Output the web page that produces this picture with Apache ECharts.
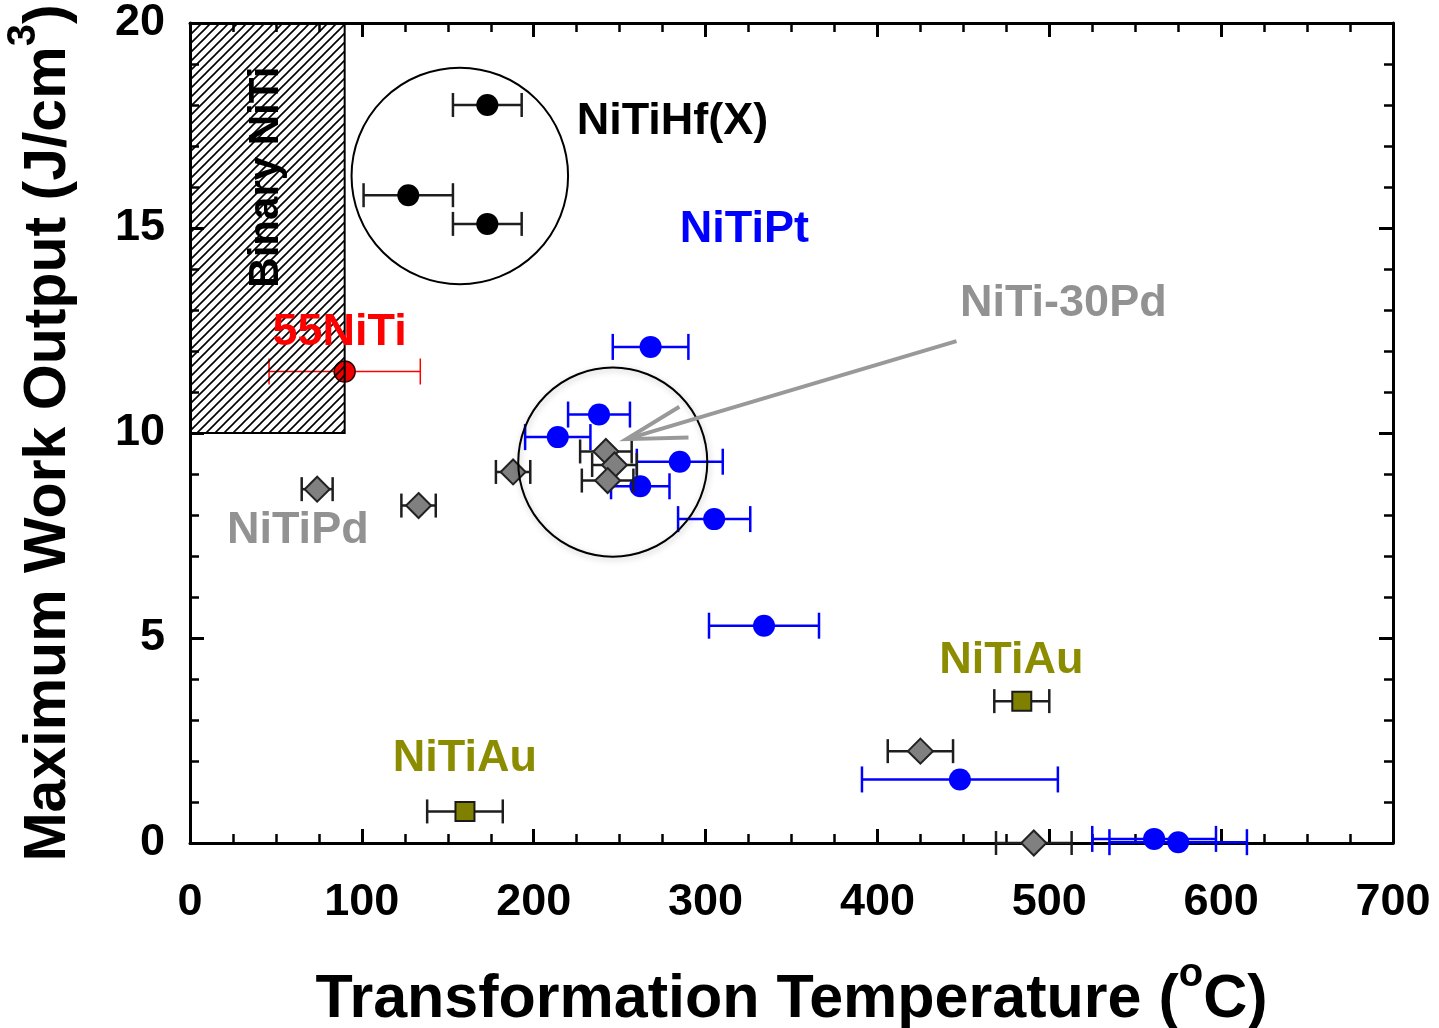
<!DOCTYPE html>
<html>
<head>
<meta charset="utf-8">
<script src="https://cdn.jsdelivr.net/npm/echarts@6/dist/echarts.min.js"></script>
<style>
  html, body { margin: 0; padding: 0; background: #fff; }
  #chart { width: 1439px; height: 1028px; }
</style>
</head>
<body>
<div id="chart"></div>
<script>
// Transformation temperature (°C), maximum work output (J/cm³) and temperature spread per alloy family
const hfTemp = [173, 127, 173];
const hfWork = [18.0, 15.8, 15.1];
const hfErr  = [20, 26, 20];

const ptTemp = [268, 238, 214, 285, 262, 305, 334, 448, 561, 575];
const ptWork = [12.1, 10.45, 9.9, 9.3, 8.7, 7.9, 5.3, 1.55, 0.1, 0.02];
const ptErr  = [22, 18, 19, 25, 17, 21, 32, 57, 36, 40];

const pdTemp = [74, 133, 188, 242, 247, 243, 425, 491];
const pdWork = [8.63, 8.23, 9.05, 9.55, 9.22, 8.84, 2.24, 0.0];
const pdErr  = [9, 10, 10, 15, 13, 15, 19, 22];

const auTemp = [484, 160];
const auWork = [3.46, 0.77];
const auErr  = [16, 22];

const niti55Temp = [90];
const niti55Work = [11.5];
const niti55Err  = [44];

// Binary NiTi region: [temp from, temp to, work from, work to]
const binaryRegion = [0, 90, 10, 20];

// Group outlines: [centre temp, centre work, radius in °C]
const groupCircles = [[157, 16.27, 63], [246, 9.29, 55]];
// Pointer from the NiTi-30Pd label to its cluster: [from, to]
const pointer = [[446, 12.24], [254, 9.85]];

// Axis ticks
const xTicks = [0, 100, 200, 300, 400, 500, 600, 700];
const yTicks = [0, 5, 10, 15, 20];

// Text annotations and where they sit (temp, work)
const labelNames   = ['NiTiHf(X)', 'NiTiPt', 'NiTi-30Pd', '55NiTi', 'NiTiPd', 'NiTiAu', 'NiTiAu', 'Binary NiTi'];
const labelAnchors = [[225, 17.6], [285, 14.95], [448, 13.15], [48, 12.46], [21.5, 7.61], [436, 4.46], [118, 2.05], [44.2, 16.24]];

const FONT = '"Liberation Sans", Arial, Helvetica, sans-serif';
const labelStyles = [
  { fill: '#000000' },
  { fill: '#0000ff' },
  { fill: '#929292' },
  { fill: '#ff0000' },
  { fill: '#929292' },
  { fill: '#8c8c00' },
  { fill: '#8c8c00' },
  { fill: '#000000', size: 42, rotate: true }
];

const zip3 = (a, b, c) => a.map((v, i) => [v, b[i], c[i]]);
const zip2 = (a, b) => a.map((v, i) => [v, b[i]]);

// Diagonal hatch tile for the binary NiTi region
const hatch = document.createElement('canvas');
hatch.width = 9; hatch.height = 9;
(function () {
  const g = hatch.getContext('2d');
  g.strokeStyle = '#000';
  g.lineWidth = 1.6;
  g.beginPath();
  g.moveTo(-2, 11); g.lineTo(11, -2);
  g.moveTo(-2, 2); g.lineTo(2, -2);
  g.moveTo(7, 11); g.lineTo(11, 7);
  g.stroke();
})();

function errorBars(name, data, color, width, cap, z) {
  return {
    name, type: 'custom', z, silent: true, clip: false,
    data,
    renderItem(params, api) {
      const x = api.value(0), y = api.value(1), e = api.value(2);
      const a = api.coord([x - e, y]);
      const b = api.coord([x + e, y]);
      const st = { stroke: color, lineWidth: width, fill: null };
      return {
        type: 'group',
        children: [
          { type: 'line', shape: { x1: a[0], y1: a[1], x2: b[0], y2: b[1] }, style: st },
          { type: 'line', shape: { x1: a[0], y1: a[1] - cap, x2: a[0], y2: a[1] + cap }, style: st },
          { type: 'line', shape: { x1: b[0], y1: b[1] - cap, x2: b[0], y2: b[1] + cap }, style: st }
        ]
      };
    }
  };
}

function markers(name, data, symbol, size, itemStyle, z) {
  return {
    name, type: 'scatter', z, silent: true, clip: false,
    symbol, symbolSize: size, data,
    itemStyle: Object.assign({ opacity: 1 }, itemStyle),
    emphasis: { disabled: true }
  };
}

const axisLine = { show: true, onZero: false, lineStyle: { color: '#000', width: 3 } };
const axisTick = { show: true, inside: true, length: 14, lineStyle: { color: '#000', width: 3 } };
const tickLabel = { color: '#000', fontSize: 45, fontWeight: 'bold', fontFamily: FONT };

const xBase = {
  type: 'value', min: xTicks[0], max: xTicks[xTicks.length - 1], interval: xTicks[1] - xTicks[0],
  axisLine, axisTick,
  minorTick: { show: true, splitNumber: 4, length: 9, lineStyle: { color: '#000', width: 2.5 } },
  splitLine: { show: false }, minorSplitLine: { show: false }
};
const yBase = {
  type: 'value', min: yTicks[0], max: yTicks[yTicks.length - 1], interval: yTicks[1] - yTicks[0],
  axisLine, axisTick,
  minorTick: { show: true, splitNumber: 5, length: 9, lineStyle: { color: '#000', width: 2.5 } },
  splitLine: { show: false }, minorSplitLine: { show: false }
};

function titleRich(size) {
  return {
    t: { fontSize: size, fontWeight: 'bold', fontFamily: FONT, color: '#000', lineHeight: 90 },
    s: { fontSize: 40, fontWeight: 'bold', fontFamily: FONT, color: '#000', lineHeight: 36, verticalAlign: 'top' }
  };
}

const option = {
  animation: false,
  backgroundColor: '#fff',
  grid: { left: 190, right: 46, top: 23, bottom: 185, containLabel: false, outerBoundsMode: 'none' },
  xAxis: [
    Object.assign({}, xBase, {
      position: 'bottom',
      axisLabel: Object.assign({ margin: 37 }, tickLabel),
      name: '{t|Transformation Temperature (}{s|o}{t|C)}',
      nameLocation: 'middle', nameGap: 112,
      nameTextStyle: { rich: titleRich(61) }
    }),
    Object.assign({}, xBase, { position: 'top', axisLabel: { show: false } })
  ],
  yAxis: [
    Object.assign({}, yBase, {
      position: 'left',
      axisLabel: Object.assign({ margin: 25 }, tickLabel),
      name: '{t|Maximum Work Output (J/cm}{s|3}{t|)}',
      nameLocation: 'middle', nameGap: 96, nameRotate: 90,
      nameTextStyle: { rich: titleRich(59) }
    }),
    Object.assign({}, yBase, { position: 'right', axisLabel: { show: false } })
  ],
  series: [
    errorBars('NiTiPt spread', zip3(ptTemp, ptWork, ptErr), '#0000ff', 2.5, 13, 2),
    markers('NiTiPt', zip2(ptTemp, ptWork), 'circle', 22, { color: '#0000ff' }, 3),
    errorBars('NiTiPd spread', zip3(pdTemp, pdWork, pdErr), '#1e1e1e', 2.5, 12, 4),
    markers('NiTiPd', zip2(pdTemp, pdWork), 'diamond', [25, 25], { color: '#808080', borderColor: '#222', borderWidth: 2 }, 5),
    errorBars('NiTiHf spread', zip3(hfTemp, hfWork, hfErr), '#1e1e1e', 2.5, 12, 4),
    markers('NiTiHf(X)', zip2(hfTemp, hfWork), 'circle', 22, { color: '#000' }, 5),
    errorBars('NiTiAu spread', zip3(auTemp, auWork, auErr), '#1e1e1e', 2.5, 12, 4),
    markers('NiTiAu', zip2(auTemp, auWork), 'rect', 19, { color: '#808000', borderColor: '#1a1a1a', borderWidth: 2 }, 5),
    errorBars('55NiTi spread', zip3(niti55Temp, niti55Work, niti55Err), '#ff0000', 1.5, 13, 4),
    markers('55NiTi', zip2(niti55Temp, niti55Work), 'circle', 21, { color: '#ee0000', borderColor: '#330000', borderWidth: 1.5 }, 5),
    {
      name: 'Binary NiTi', type: 'custom', z: 6, silent: true, clip: false,
      data: [binaryRegion],
      renderItem(params, api) {
        const tl = api.coord([api.value(0), api.value(3)]);
        const br = api.coord([api.value(1), api.value(2)]);
        return {
          type: 'rect',
          shape: { x: tl[0], y: tl[1], width: br[0] - tl[0], height: br[1] - tl[1] },
          style: { fill: { image: hatch, repeat: 'repeat' }, stroke: '#000', lineWidth: 2 }
        };
      }
    },
    {
      name: 'groups', type: 'custom', z: 7, silent: true, clip: false,
      data: groupCircles,
      renderItem(params, api) {
        const c = api.coord([api.value(0), api.value(1)]);
        const r = api.size([api.value(2), 0])[0];
        const shadow = params.dataIndex === 1;
        return {
          type: 'circle',
          shape: { cx: c[0], cy: c[1], r },
          style: {
            fill: null, stroke: '#000', lineWidth: 2,
            shadowBlur: shadow ? 6 : 0, shadowColor: 'rgba(0,0,0,0.25)', shadowOffsetX: shadow ? 1 : 0, shadowOffsetY: shadow ? 2 : 0
          }
        };
      }
    },
    {
      name: 'pointer', type: 'custom', z: 7, silent: true, clip: false,
      data: [[pointer[0][0], pointer[0][1], pointer[1][0], pointer[1][1]]],
      renderItem(params, api) {
        const s = api.coord([api.value(0), api.value(1)]);
        const t = api.coord([api.value(2), api.value(3)]);
        const ang = Math.atan2(s[1] - t[1], s[0] - t[0]);
        const len = 62, spread = 15 * Math.PI / 180;
        const b1 = [t[0] + len * Math.cos(ang - spread), t[1] + len * Math.sin(ang - spread)];
        const b2 = [t[0] + len * Math.cos(ang + spread), t[1] + len * Math.sin(ang + spread)];
        const st = { stroke: '#999999', lineWidth: 4, fill: null };
        return {
          type: 'group',
          children: [
            { type: 'line', shape: { x1: s[0], y1: s[1], x2: t[0], y2: t[1] }, style: st },
            { type: 'polyline', shape: { points: [b1, t, b2] }, style: st }
          ]
        };
      }
    },
    {
      name: 'labels', type: 'custom', z: 8, silent: true, clip: false,
      data: labelAnchors.map((p, i) => [p[0], p[1], i]),
      renderItem(params, api) {
        const i = api.value(2);
        const p = api.coord([api.value(0), api.value(1)]);
        const ls = labelStyles[i];
        return {
          type: 'text',
          x: p[0], y: p[1],
          rotation: ls.rotate ? Math.PI / 2 : 0,
          style: {
            text: labelNames[i],
            fill: ls.fill,
            fontSize: ls.size || 45,
            fontWeight: 'bold',
            fontFamily: FONT,
            align: ls.rotate ? 'center' : 'left',
            verticalAlign: 'middle'
          }
        };
      }
    }
  ]
};

const chart = echarts.init(document.getElementById('chart'), null, { renderer: 'canvas' });
chart.setOption(option);
</script>
</body>
</html>
